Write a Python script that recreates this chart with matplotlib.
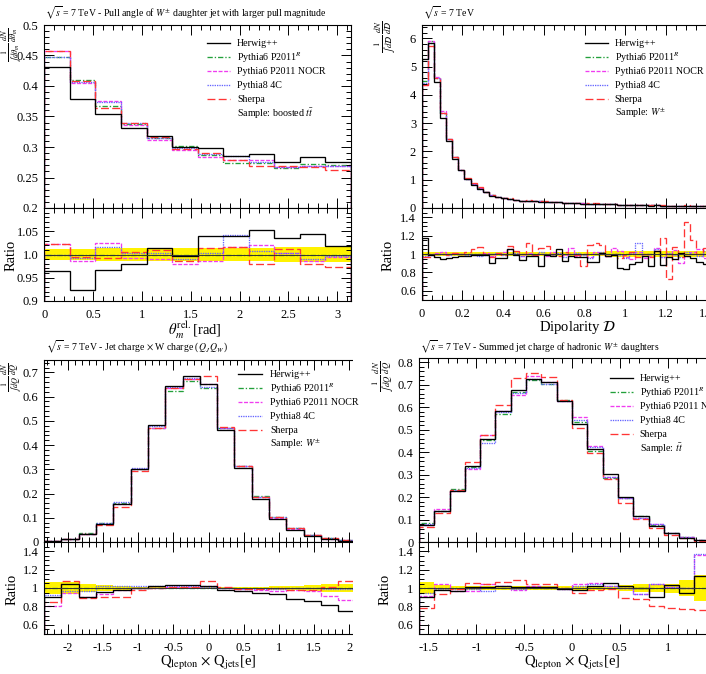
import numpy as np
import matplotlib
matplotlib.use('Agg')
import matplotlib.pyplot as plt
from matplotlib.ticker import MultipleLocator, FixedLocator, FuncFormatter
from matplotlib.patches import Rectangle
from matplotlib.lines import Line2D

plt.rcParams['font.family'] = ['Liberation Serif', 'DejaVu Serif']
plt.rcParams['mathtext.fontset'] = 'stix'

W, H = 706, 674

# ---- data: reference = Pythia6 P2011 (main values), others as ratio to it ----
names = ['Herwig++', 'Pythia6 P2011$^{R}$', 'Pythia6 P2011 NOCR', 'Pythia8 4C', 'Sherpa']

# pull angle
tl_edges = np.linspace(0, np.pi, 13)
tl_ref = [0.447, 0.410, 0.367, 0.338, 0.314, 0.301, 0.287, 0.274, 0.274, 0.266, 0.272, 0.270]
tl_herwig = [0.964, 0.924, 0.967, 0.98, 1.014, 0.996, 1.04, 1.04, 1.052, 1.036, 1.045, 1.019]
tl_nocr = [1.022, 0.986, 1.025, 0.993, 0.99, 0.98, 0.986, 1.016, 1.02, 1.004, 0.987, 0.995]
tl_py8 = [1.0, 0.993, 1.017, 1.004, 1.004, 0.99, 1.004, 1.041, 1.007, 1.004, 0.99, 0.996]
tl_sherpa = [1.022, 0.995, 0.993, 1.006, 1.009, 0.987, 1.013, 1.016, 0.98, 1.011, 0.98, 0.973]
tl_band = [0.012, 0.012, 0.013, 0.013, 0.014, 0.014, 0.015, 0.015, 0.015, 0.016, 0.016, 0.017]

# dipolarity
tr_edges = np.linspace(0, 1.5, 51)
tr_ref = [4.5, 5.9, 4.6, 3.35, 2.45, 1.8, 1.36, 1.04, 0.84, 0.69,
          0.57, 0.47, 0.40, 0.35, 0.31, 0.285, 0.265, 0.25, 0.24, 0.23,
          0.22, 0.21, 0.20, 0.19, 0.18, 0.17, 0.16, 0.152, 0.145, 0.138,
          0.132, 0.126, 0.12, 0.115, 0.11, 0.105, 0.10, 0.096, 0.092, 0.088,
          0.084, 0.08, 0.076, 0.072, 0.068, 0.065, 0.062, 0.059, 0.056, 0.053]
tr_herwig = [1.17, 0.99, 0.97, 0.945, 0.96, 0.965, 0.975, 0.98, 0.985, 0.99,
             0.99, 0.90, 0.96, 0.96, 1.05, 0.99, 0.94, 0.975, 0.975, 0.87,
             0.99, 0.98, 1.05, 0.92, 0.98, 0.965, 0.965, 0.91, 0.91, 1.01,
             0.975, 0.99, 0.85, 0.84, 0.89, 0.91, 0.975, 0.87, 1.03, 0.88,
             0.97, 0.95, 1.01, 0.975, 0.96, 0.91, 0.89, 0.95, 0.92, 0.94]
tr_nocr = [0.97, 1.0, 1.01, 1.02, 1.0, 1.01, 0.995, 1.0, 0.99, 1.0,
           1.01, 0.98, 1.0, 1.02, 1.05, 1.0, 0.98, 1.01, 0.99, 1.0,
           0.98, 1.02, 1.0, 0.99, 1.07, 0.98, 1.0, 0.97, 1.02, 1.0,
           0.98, 1.07, 1.03, 0.97, 0.95, 1.02, 0.96, 0.98, 1.07, 0.97,
           1.0, 1.04, 0.90, 0.98, 1.02, 1.05, 0.96, 1.0, 0.97, 1.02]
tr_py8 = [0.98, 0.99, 1.0, 1.0, 0.99, 1.0, 1.0, 0.99, 1.0, 0.98,
          0.99, 1.0, 1.01, 0.99, 1.0, 1.01, 0.98, 1.0, 0.99, 1.02,
          1.0, 0.99, 1.01, 0.97, 1.0, 1.01, 0.99, 0.96, 1.0, 1.02,
          0.98, 1.0, 0.99, 0.96, 1.01, 1.12, 0.98, 1.0, 1.05, 0.97,
          1.01, 0.99, 0.97, 1.02, 1.0, 0.98, 1.03, 0.99, 1.01, 1.0]
tr_sherpa = [0.97, 0.97, 1.0, 1.0, 0.99, 1.01, 1.0, 1.02, 1.05, 1.08,
             1.0, 0.97, 1.01, 0.99, 1.09, 1.03, 1.0, 1.12, 0.99, 1.065,
             1.09, 1.0, 0.98, 1.02, 1.0, 0.99, 0.865, 1.1, 1.12, 1.1,
             0.98, 1.0, 0.96, 0.99, 1.02, 0.97, 1.0, 0.97, 1.03, 1.17,
             0.73, 1.08, 0.97, 1.35, 1.15, 1.0, 1.07, 0.95, 1.1, 0.9]
tr_band = [0.018] * 10 + [0.021] * 10 + [0.025] * 10 + [0.029] * 10 + [0.034] * 10

# jet charge x W charge
bl_edges = np.linspace(-7 / 3, 7 / 3, 20)
bl_ref = [0.0055, 0.012, 0.036, 0.078, 0.162, 0.30, 0.47, 0.625, 0.665, 0.635,
          0.47, 0.315, 0.188, 0.104, 0.057, 0.029, 0.0147, 0.008, 0.004]
bl_herwig = [0.905, 1.04, 0.905, 0.955, 0.98, 1.0, 1.025, 1.03, 1.03, 1.025,
             0.98, 0.965, 0.945, 0.93, 0.88, 0.86, 0.815, 0.75, 0.72]
bl_nocr = [0.80, 0.945, 0.90, 0.935, 0.98, 1.0, 1.005, 1.015, 1.01, 1.025,
           1.0, 0.99, 0.98, 0.97, 0.975, 0.965, 0.91, 0.875, 0.87]
bl_py8 = [0.92, 0.97, 0.97, 1.025, 1.025, 1.02, 1.02, 1.025, 1.02, 1.01,
          1.0, 0.99, 0.99, 0.99, 1.0, 1.0, 0.99, 0.985, 0.97]
bl_sherpa = [0.85, 1.08, 0.89, 0.9, 0.9, 0.98, 1.0, 1.015, 1.01, 1.08,
             1.01, 0.99, 0.99, 0.995, 0.98, 0.98, 1.01, 1.08, 1.08]
bl_band = [0.07, 0.06, 0.045, 0.03, 0.02, 0.015, 0.01, 0.01, 0.01, 0.01,
           0.01, 0.012, 0.015, 0.02, 0.025, 0.03, 0.04, 0.045, 0.055]

# summed jet charge
br_edges = np.linspace(-1.6, 1.6, 21)
br_ref = [0.084, 0.14, 0.235, 0.335, 0.455, 0.57, 0.67, 0.72, 0.705, 0.635,
          0.535, 0.405, 0.285, 0.195, 0.118, 0.078, 0.04, 0.022, 0.009, 0.005]
br_herwig = [0.90, 0.98, 0.965, 1.01, 1.01, 1.025, 1.01, 1.01, 1.01, 0.99,
             0.98, 1.025, 1.06, 1.025, 1.0, 0.905, 1.03, 0.95, 1.13, 1.1]
br_nocr = [0.91, 1.045, 0.965, 0.97, 1.05, 1.025, 0.98, 1.025, 1.01, 0.99,
           1.045, 1.06, 1.025, 1.0, 0.935, 1.05, 1.01, 1.0, 1.36, 1.3]
br_py8 = [0.95, 0.99, 0.99, 0.99, 0.97, 1.02, 0.99, 1.01, 1.0, 0.99,
          1.02, 1.05, 1.02, 1.0, 0.935, 1.04, 1.01, 1.0, 1.37, 1.3]
br_sherpa = [0.787, 0.94, 0.99, 1.06, 1.05, 1.07, 1.09, 1.045, 1.045, 1.0,
             0.95, 0.98, 0.99, 0.89, 0.88, 0.805, 0.78, 0.775, 0.76, 0.75]
br_band = [0.065, 0.03, 0.025, 0.025, 0.025, 0.025, 0.02, 0.02, 0.02, 0.02,
           0.02, 0.02, 0.025, 0.03, 0.04, 0.045, 0.05, 0.09, 0.14, 0.15]

# ---- styles ----
colors = ['black', '#22a03a', '#f03cf0', '#6464ff', '#ff3535']
styles = ['-', (0, (4, 1.5, 1, 1.5)), (0, (3, 1.2)), (0, (1, 0.8)), (0, (6, 2.5))]
yellow = '#fff200'
lw = 0.95
fmt = FuncFormatter(lambda v, p: '%g' % v)

fig = plt.figure(figsize=(W / 100, H / 100), dpi=100)


def px_axes(x0, x1, y0, y1, z):
    return fig.add_axes([x0 / W, 1 - y1 / H, (x1 - x0) / W, (y1 - y0) / H], zorder=z)


def fx(x):
    return x / W


def fy(y):
    return 1 - y / H


def style_ax(ax):
    ax.tick_params(which='both', direction='in', top=True, right=True, labelsize=9, width=0.7)
    ax.tick_params(which='major', length=7, pad=4)
    ax.tick_params(which='minor', length=3.5)
    for s in ax.spines.values():
        s.set_linewidth(0.8)


def panel(x0, x1, ytop, ymid, ybot, z, edges, xlim, ref, ratios, band,
          ylim, ymaj, ymin, rmaj, rlabels, rmin, xmaj, xmin, rlim=(0.5, 1.5)):
    ref = np.array(ref)
    herwig, nocr, py8, sherpa = [np.array(r) for r in ratios]
    # main values from reference times ratio
    mains = [ref * herwig, ref, ref * nocr, ref * py8, ref * sherpa]
    rats = [herwig, np.ones_like(ref), nocr, py8, sherpa]
    order = [1, 2, 3, 4, 0]

    ax = px_axes(x0, x1, ytop, ymid, z)
    for i in order:
        ax.stairs(mains[i], edges, color=colors[i], ls=styles[i], lw=lw)
    ax.set_xlim(*xlim)
    ax.set_ylim(*ylim)
    ax.yaxis.set_major_locator(MultipleLocator(ymaj))
    ax.yaxis.set_minor_locator(MultipleLocator(ymin))
    ax.yaxis.set_major_formatter(fmt)
    ax.xaxis.set_major_locator(MultipleLocator(xmaj))
    ax.xaxis.set_minor_locator(MultipleLocator(xmin))
    style_ax(ax)
    ax.tick_params(labelbottom=False)

    rx = px_axes(x0, x1, ymid, ybot, z)
    band = np.array(band)
    rx.stairs(1 + band, edges, baseline=1 - band, fill=True, color=yellow, lw=0)
    rx.axhline(1, color='#333333', lw=0.7)
    for i in order:
        rx.stairs(rats[i], edges, color=colors[i], ls=styles[i], lw=lw)
    rx.set_xlim(*xlim)
    rx.set_ylim(*rlim)
    rx.yaxis.set_major_locator(FixedLocator(rmaj))
    rx.set_yticklabels(rlabels)
    rx.yaxis.set_minor_locator(MultipleLocator(rmin))
    rx.xaxis.set_major_locator(MultipleLocator(xmaj))
    rx.xaxis.set_minor_locator(MultipleLocator(xmin))
    rx.xaxis.set_major_formatter(fmt)
    style_ax(rx)
    rx.tick_params(axis='x', pad=6)
    return ax, rx


def legend(xl0, xl1, xt, ytop, sample):
    for i, name in enumerate(names):
        y = ytop + 14 * i
        fig.add_artist(Line2D([fx(xl0), fx(xl1)], [fy(y), fy(y)], color=colors[i],
                              ls=styles[i], lw=lw, zorder=5))
        fig.text(fx(xt), fy(y), name, va='center', ha='left', fontsize=7.2, zorder=5)
    fig.text(fx(xt), fy(ytop + 70), sample, va='center', ha='left', fontsize=7.2, zorder=5)


# top left: pull angle
panel(44.3, 351, 25, 208, 301, 0, tl_edges, (0, np.pi), tl_ref,
      [tl_herwig, tl_nocr, tl_py8, tl_sherpa], tl_band,
      (0.2, 0.5), 0.05, 0.01, [0.9, 0.95, 1.0, 1.05], ['0.9', '0.95', '1.0', '1.05'], 0.01,
      0.5, 0.1, rlim=(0.9, 1.1))
fig.text(fx(45), fy(13), r'$\sqrt{s}$ = 7 TeV - Pull angle of $W^{\pm}$ daughter jet with larger pull magnitude',
         fontsize=7, va='center')
legend(207, 230, 237, 43.3, r'Sample: boosted $t\bar{t}$')
fig.text(fx(11.5), fy(27), r'$\frac{1}{\int\, d\theta_m}\,\frac{dN}{d\theta_m}$', rotation=90,
         ha='center', va='top', fontsize=8.5)
fig.text(fx(11), fy(255), 'Ratio', rotation=90, ha='center', va='center', fontsize=10.5)
fig.text(fx(195), fy(330), r'$\theta_m^{\mathrm{rel.}}$[rad]', ha='center', va='center', fontsize=10.5)

# bottom left: jet charge x W charge
panel(44.2, 372.8, 360, 542, 634, 0, bl_edges, (-7 / 3, 7 / 3), bl_ref,
      [bl_herwig, bl_nocr, bl_py8, bl_sherpa], bl_band,
      (0, 0.751), 0.1, 0.02, [0.6, 0.8, 1.0, 1.2, 1.4], ['0.6', '0.8', '1', '1.2', '1.4'], 0.05,
      0.5, 0.1)
fig.text(fx(46), fy(347), r'$\sqrt{s}$ = 7 TeV - Jet charge $\times$ W charge ($Q_J\, Q_W$)',
         fontsize=7, va='center')
legend(238.3, 261.7, 270, 374.3, r'Sample: $W^{\pm}$')
fig.text(fx(11.5), fy(362), r'$\frac{1}{\int\, dQ}\,\frac{dN}{dQ}$', rotation=90,
         ha='center', va='top', fontsize=8.5)
fig.text(fx(12), fy(589), 'Ratio', rotation=90, ha='center', va='center', fontsize=10.5)
fig.text(fx(208), fy(663), r'Q$_{\mathrm{lepton}}$ $\times$ Q$_{\mathrm{jets}}$[e]',
         ha='center', va='center', fontsize=10.5)

# crop the left panels where the right ones begin
fig.add_artist(Rectangle((fx(353), 0), fx(418) - fx(353), 1, transform=fig.transFigure,
                         facecolor='white', edgecolor='none', zorder=1))

# top right: dipolarity
panel(421.7, 727, 25, 208, 300, 2, tr_edges, (0, 1.5), tr_ref,
      [tr_herwig, tr_nocr, tr_py8, tr_sherpa], tr_band,
      (0, 6.47), 1, 0.2, [0.6, 0.8, 1.0, 1.2, 1.4], ['0.6', '0.8', '1', '1.2', '1.4'], 0.05,
      0.2, 0.05)
fig.text(fx(423), fy(13), r'$\sqrt{s}$ = 7 TeV', fontsize=7, va='center', zorder=5)
legend(584.7, 608, 614.7, 43.3, r'Sample: $W^{\pm}$')
fig.text(fx(385), fy(20), r'$\frac{1}{\int\, d\mathcal{D}}\,\frac{dN}{d\mathcal{D}}$', rotation=90,
         ha='center', va='top', fontsize=9, zorder=5)
fig.text(fx(388), fy(255), 'Ratio', rotation=90, ha='center', va='center', fontsize=10.5, zorder=5)
fig.text(fx(578), fy(327), r'Dipolarity $\mathcal{D}$', ha='center', va='center', fontsize=10.5, zorder=5)

# bottom right: summed jet charge
panel(418.9, 725.1, 358, 542.3, 634, 2, br_edges, (-1.6, 1.6), br_ref,
      [br_herwig, br_nocr, br_py8, br_sherpa], br_band,
      (0, 0.82), 0.1, 0.02, [0.6, 0.8, 1.0, 1.2, 1.4], ['0.6', '0.8', '1', '1.2', '1.4'], 0.05,
      0.5, 0.1)
fig.text(fx(420), fy(347), r'$\sqrt{s}$ = 7 TeV - Summed jet charge of hadronic $W^{\pm}$ daughters',
         fontsize=7, va='center', zorder=5)
legend(609.7, 633, 639.7, 378.3, r'Sample: $t\bar{t}$')
fig.text(fx(383), fy(360), r'$\frac{1}{\int\, dQ}\,\frac{dN}{dQ}$', rotation=90,
         ha='center', va='top', fontsize=9, zorder=5)
fig.text(fx(385), fy(589), 'Ratio', rotation=90, ha='center', va='center', fontsize=10.5, zorder=5)
fig.text(fx(572), fy(663), r'Q$_{\mathrm{lepton}}$ $\times$ Q$_{\mathrm{jets}}$[e]',
         ha='center', va='center', fontsize=10.5, zorder=5)

fig.savefig('out.png', dpi=100)
